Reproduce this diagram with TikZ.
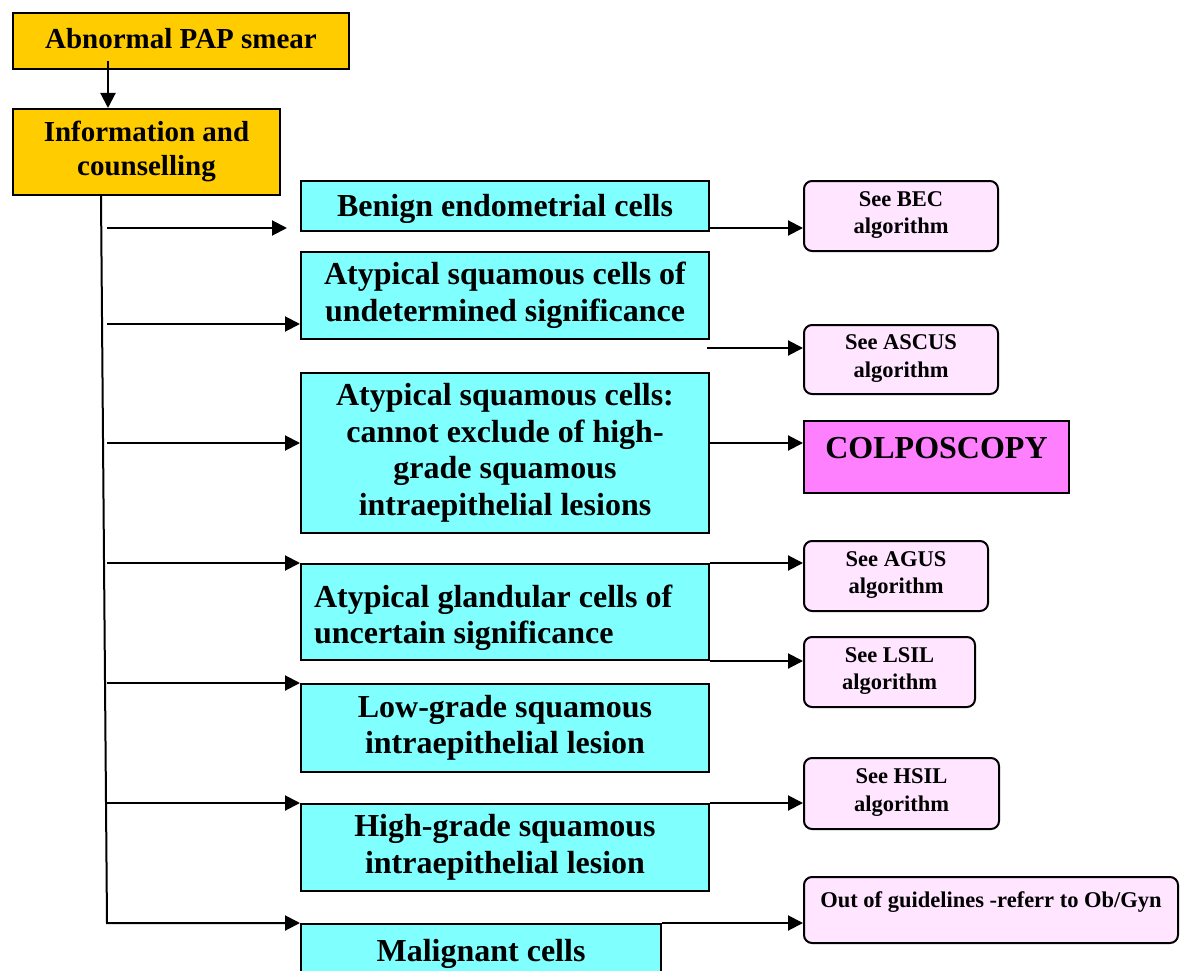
\documentclass[tikz,border=0pt]{standalone}
\usepackage{fontspec}
\setmainfont{Liberation Serif}
\usetikzlibrary{arrows.meta}

\definecolor{gold}{HTML}{FFCC00}
\definecolor{aqua}{HTML}{80FFFF}
\definecolor{blush}{HTML}{FFE5FF}
\definecolor{orchid}{HTML}{FF80FF}

% invisible struts: a top one for the first line, a bottom one for the last line
\newcommand\topstrut[1]{\rule{0pt}{#1}}
\newcommand\botstrut[1]{\rule[-#1]{0pt}{0pt}}

\tikzset{
  box/.style={draw=black, line width=2pt, inner sep=0pt, anchor=north west, align=center},
  yellowbox/.style={box, fill=gold, font=\fontsize{29}{34}\selectfont\bfseries,
    execute at begin node=\topstrut{24pt}, execute at end node=\botstrut{8pt}},
  cyanbox/.style={box, fill=aqua, font=\fontsize{32}{36.7}\selectfont\bfseries,
    execute at begin node=\topstrut{29pt}, execute at end node=\botstrut{7pt}},
  algbox/.style={box, fill=blush, rounded corners=8pt, font=\fontsize{22.5}{27.5}\selectfont\bfseries,
    execute at begin node=\topstrut{21pt}, execute at end node=\botstrut{6.5pt}},
  colpobox/.style={box, fill=orchid, font=\fontsize{32}{36}\selectfont\bfseries},
  arr/.style={line width=2pt, -{Triangle[length=15pt,width=15pt]}},
}

\begin{document}
\begin{tikzpicture}[x=1pt, y=-1pt]
  \useasboundingbox (0,0) rectangle (1185,971);
  \fill[white] (0,0) rectangle (1185,971);
  \clip (0,0) rectangle (1185,971);

  % entry boxes
  \node[yellowbox, minimum width=336, minimum height=56] (pap) at (12,12) {Abnormal PAP smear};
  \node[yellowbox, minimum width=267, minimum height=86] (info) at (12,108) {Information and\\counselling};

  % cytology results
  \node[cyanbox, minimum width=408, minimum height=50] (bec) at (300,180) {Benign endometrial cells};
  \node[cyanbox, minimum width=408, minimum height=87] (ascus) at (300,251) {Atypical squamous cells of\\undetermined significance};
  \node[cyanbox, minimum width=408, minimum height=160] (asch) at (300,372) {Atypical squamous cells:\\cannot exclude of high-\\grade squamous\\intraepithelial lesions};
  \node[cyanbox, minimum width=408, minimum height=96, align=flush left, inner xsep=13pt, text width=382pt,
    execute at begin node=\topstrut{34pt}, execute at end node=\botstrut{2.5pt}] (agus) at (300,563) {Atypical glandular cells of\\uncertain significance};
  \node[cyanbox, minimum width=408, minimum height=88] (lsil) at (300,683) {Low-grade squamous\\intraepithelial lesion};
  \node[cyanbox, minimum width=408, minimum height=87] (hsil) at (300,803) {High-grade squamous\\intraepithelial lesion};
  \node[cyanbox, minimum width=360, minimum height=54] (malig) at (300,923) {Malignant cells};

  % follow-up
  \node[algbox, minimum width=194, minimum height=70] (sbec) at (803,180) {See BEC\\algorithm};
  \node[algbox, minimum width=194, minimum height=69] (sascus) at (803,324) {See ASCUS\\algorithm};
  \node[colpobox, minimum width=265, text height=37pt, text depth=35pt] (colpo) at (803,420) {COLPOSCOPY};
  \node[algbox, minimum width=184, minimum height=70] (sagus) at (803,540) {See AGUS\\algorithm};
  \node[algbox, minimum width=171, minimum height=70] (slsil) at (803,636) {See LSIL\\algorithm};
  \node[algbox, minimum width=195, minimum height=71] (shsil) at (803,757) {See HSIL\\algorithm};
  \node[algbox, minimum width=374, minimum height=66, execute at begin node={}, execute at end node={},
    text height=30pt, text depth=36pt] (obgyn) at (803,876) {Out of guidelines -referr to Ob/Gyn};

  % trunk and branch points
  \coordinate (tx) at (108,0);
  \coordinate (t0) at (101,0);
  \coordinate (tend) at (107,923);
  \coordinate (b1) at (107,228);
  \coordinate (b1end) at (287,228);
  \coordinate (b2) at (107,324);
  \coordinate (b3) at (107,443);
  \coordinate (b4) at (107,563);
  \coordinate (b5) at (107,683);
  \coordinate (b6) at (107,803);
  \coordinate (a2) at (707,348);

  \draw[arr] ([yshift=9pt]pap.south -| tx) -- (info.north -| tx);
  \draw[arr] (info.south -| t0) -- (tend) -- (malig.north west);
  \draw[arr] (b1) -- (b1end);
  \draw[arr] (b2) -- (ascus.west |- b2);
  \draw[arr] (b3) -- (asch.west |- b3);
  \draw[arr] (b4) -- (agus.north west);
  \draw[arr] (b5) -- (lsil.north west);
  \draw[arr] (b6) -- (hsil.north west);

  % links to follow-up
  \draw[arr] (bec.east |- b1) -- (sbec.west |- b1);
  \draw[arr] (a2) -- (sascus.west |- a2);
  \draw[arr] (asch.east |- b3) -- (colpo.west |- b3);
  \draw[arr] (agus.north east) -- (sagus.west |- agus.north);
  \draw[arr] (agus.south east) -- (slsil.west |- agus.south);
  \draw[arr] (hsil.north east) -- (shsil.west |- hsil.north);
  \draw[arr] (malig.north east) -- (obgyn.west |- malig.north);
\end{tikzpicture}
\end{document}
